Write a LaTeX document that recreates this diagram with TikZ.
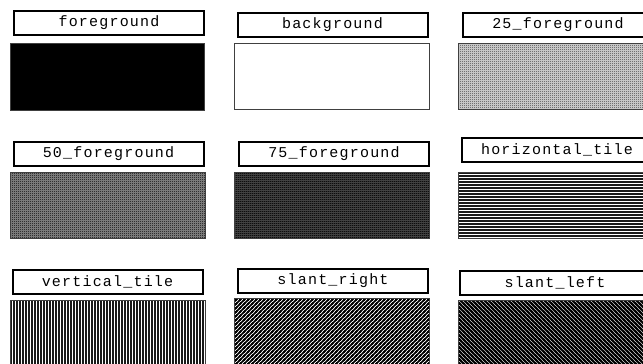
\documentclass[tikz,border=0pt]{standalone}
\usepackage{fontspec}
\newfontfamily\lblfont[LetterSpace=8]{Liberation Mono}
\usetikzlibrary{patterns}
\pgfdeclarepatternformonly{pxa}{\pgfpointorigin}{\pgfpoint{2pt}{2pt}}{\pgfpoint{2pt}{2pt}}{%
  \pgfpathrectangle{\pgfpointorigin}{\pgfpoint{1pt}{1pt}}\pgfusepath{fill}}
\pgfdeclarepatternformonly{pxb}{\pgfpointorigin}{\pgfpoint{2pt}{2pt}}{\pgfpoint{2pt}{2pt}}{%
  \pgfpathrectangle{\pgfpointorigin}{\pgfpoint{1pt}{1pt}}%
  \pgfpathrectangle{\pgfpoint{1pt}{1pt}}{\pgfpoint{1pt}{1pt}}\pgfusepath{fill}}
\pgfdeclarepatternformonly{pxc}{\pgfpointorigin}{\pgfpoint{2pt}{2pt}}{\pgfpoint{2pt}{2pt}}{%
  \pgfpathrectangle{\pgfpointorigin}{\pgfpoint{1pt}{1pt}}%
  \pgfpathrectangle{\pgfpoint{1pt}{1pt}}{\pgfpoint{1pt}{1pt}}%
  \pgfpathrectangle{\pgfpoint{1pt}{0pt}}{\pgfpoint{1pt}{1pt}}\pgfusepath{fill}}
\pgfdeclarepatternformonly{sr}{\pgfpoint{-1pt}{-1pt}}{\pgfpoint{5pt}{5pt}}{\pgfpoint{4pt}{4pt}}{%
  \pgfsetlinewidth{1.5pt}%
  \pgfpathmoveto{\pgfpoint{-1pt}{-1pt}}\pgfpathlineto{\pgfpoint{5pt}{5pt}}%
  \pgfpathmoveto{\pgfpoint{-1pt}{3pt}}\pgfpathlineto{\pgfpoint{1pt}{5pt}}%
  \pgfpathmoveto{\pgfpoint{3pt}{-1pt}}\pgfpathlineto{\pgfpoint{5pt}{1pt}}%
  \pgfusepath{stroke}}
\pgfdeclarepatternformonly{sl}{\pgfpoint{-1pt}{-1pt}}{\pgfpoint{5pt}{5pt}}{\pgfpoint{4pt}{4pt}}{%
  \pgfsetlinewidth{1.9pt}%
  \pgfpathmoveto{\pgfpoint{-1pt}{5pt}}\pgfpathlineto{\pgfpoint{5pt}{-1pt}}%
  \pgfpathmoveto{\pgfpoint{-1pt}{1pt}}\pgfpathlineto{\pgfpoint{1pt}{-1pt}}%
  \pgfpathmoveto{\pgfpoint{3pt}{5pt}}\pgfpathlineto{\pgfpoint{5pt}{3pt}}%
  \pgfusepath{stroke}}
\tikzset{
  lbl/.style={draw=black, line width=2pt, fill=white, rectangle, inner sep=0pt,
    minimum width=190pt, minimum height=24pt, font=\lblfont\fontsize{15pt}{17pt}\selectfont},
  swatch/.style={draw=black!75, line width=1pt},
  tileline/.style={line width=1.6pt, black!90}
}
\begin{document}
\begin{tikzpicture}[x=1pt,y=-1pt]
\useasboundingbox (0,0) rectangle (643,364);
\fill[white] (0,0) rectangle (643,364);
% row 1
\draw[swatch, fill=black] (10,43) rectangle (204,110);
\draw[swatch, fill=white] (234,43) rectangle (429,109);
\fill[black!22] (458,43) rectangle (665,109);
\draw[swatch, pattern=pxa] (458,43) rectangle (665,109);
\node[lbl] (n1) at (109,22.5) {foreground};
\node[lbl] (n2) at (332.5,25) {background};
\node[lbl] (n3) at (558,24.5) {25\_foreground};
% row 2
\fill[black!45] (10,172) rectangle (205,238);
\draw[swatch, pattern=pxb] (10,172) rectangle (205,238);
\fill[black!70] (234,172) rectangle (429,238);
\draw[swatch, pattern=pxc] (234,172) rectangle (429,238);
\begin{scope}
  \clip (458,172) rectangle (665,238);
  \foreach \yy in {172,175,...,238} \draw[tileline] (458,\yy+1) -- (665,\yy+1);
\end{scope}
\draw[swatch] (458,172) rectangle (665,238);
\node[lbl] (n4) at (108.5,154) {50\_foreground};
\node[lbl] (n5) at (334,153.5) {75\_foreground};
\node[lbl] (n6) at (557,150) {horizontal\_tile};
% row 3
\begin{scope}
  \clip (10,300) rectangle (205,375);
  \foreach \xx in {10,13,...,205} \draw[tileline] (\xx+1,300) -- (\xx+1,375);
\end{scope}
\draw[swatch] (10,300) rectangle (205,375);
\draw[swatch, pattern=sr] (234,298) rectangle (429,375);
\draw[swatch, pattern=sl] (458,300) rectangle (665,375);
\node[lbl] (n7) at (107.5,281.5) {vertical\_tile};
\node[lbl] (n8) at (333,281) {slant\_right};
\node[lbl] (n9) at (555,283) {slant\_left};
\end{tikzpicture}
\end{document}
